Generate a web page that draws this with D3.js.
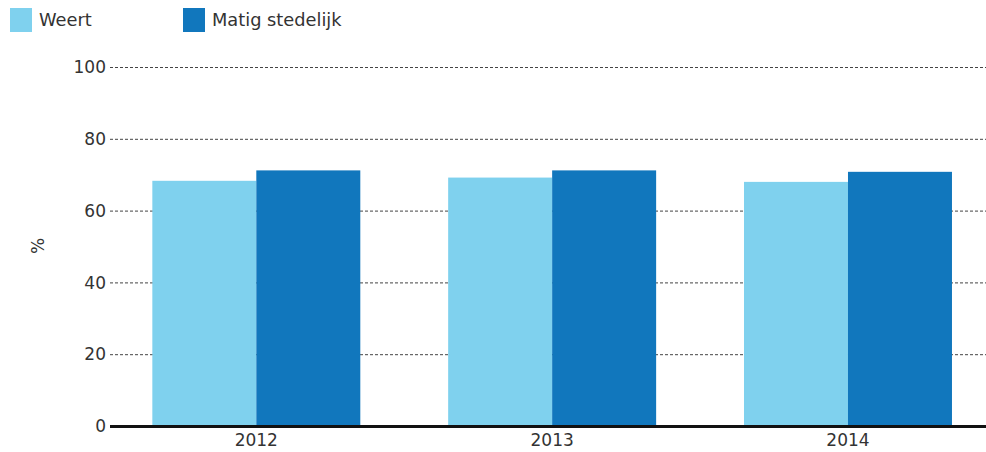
<!DOCTYPE html>
<html>
<head>
<meta charset="utf-8">
<script src="https://cdn.jsdelivr.net/npm/d3@7"></script>
<style>
  html, body { margin: 0; padding: 0; background: #fff; }
  svg { display: block; }
  text { font-family: "DejaVu Sans", Verdana, sans-serif; fill: #333; }
</style>
</head>
<body>
<svg id="chart" width="986" height="452"></svg>
<script>
const categories = ["2012", "2013", "2014"];
const seriesNames = ["Weert", "Matig stedelijk"];
const weert = [68.3, 69.2, 68.0];
const matigStedelijk = [71.2, 71.2, 70.8];
const yTicks = [0, 20, 40, 60, 80, 100];
const colors = ["#7fd1ee", "#1177bd"];

const seriesValues = [weert, matigStedelijk];
const svg = d3.select("#chart");
const W = 986;
const plotLeft = 108.4, plotRight = 995.9, plotTop = 67, plotBottom = 426;

const y = d3.scaleLinear().domain([0, 100]).range([plotBottom, plotTop]);
const x0 = d3.scaleBand().domain(categories).range([plotLeft, plotRight])
  .paddingInner(0.297).paddingOuter(0.1485);
const x1 = d3.scaleBand().domain(seriesNames).range([0, x0.bandwidth()]);

// gridlines
const grid = svg.append("g");
grid.selectAll("line").data(yTicks.filter(d => d > 0)).join("line")
  .attr("x1", 110).attr("x2", W)
  .attr("y1", d => y(d) + 0.5).attr("y2", d => y(d) + 0.5)
  .attr("stroke", "#444").attr("stroke-width", 1)
  .attr("stroke-dasharray", "3,2");

// y tick labels
svg.append("g").selectAll("text").data(yTicks).join("text")
  .attr("x", 106).attr("y", d => y(d))
  .attr("dy", "0.36em")
  .attr("text-anchor", "end")
  .attr("font-size", 17)
  .text(d => d);

// bars
const groups = svg.append("g").selectAll("g").data(categories).join("g")
  .attr("transform", d => `translate(${x0(d)},0)`);
groups.selectAll("rect")
  .data((d, i) => seriesNames.map((s, j) => ({ s, v: seriesValues[j][i], j })))
  .join("rect")
  .attr("x", d => x1(d.s))
  .attr("width", x1.bandwidth())
  .attr("y", d => y(d.v))
  .attr("height", d => y(0) - y(d.v))
  .attr("fill", d => colors[d.j]);

// baseline
svg.append("line")
  .attr("x1", 110).attr("x2", W)
  .attr("y1", y(0) + 0.5).attr("y2", y(0) + 0.5)
  .attr("stroke", "#111").attr("stroke-width", 3);

// x labels
svg.append("g").selectAll("text").data(categories).join("text")
  .attr("x", d => x0(d) + x0.bandwidth() / 2)
  .attr("y", 446)
  .attr("text-anchor", "middle")
  .attr("font-size", 17)
  .text(d => d);

// y-axis title
svg.append("text")
  .attr("transform", "translate(44,246) rotate(-90)")
  .attr("text-anchor", "middle")
  .attr("font-size", 17)
  .text("%");

// legend
const legendX = [10, 183];
const legend = svg.append("g").selectAll("g").data(seriesNames).join("g")
  .attr("transform", (d, i) => `translate(${legendX[i]},8)`);
legend.append("rect").attr("width", 22).attr("height", 24)
  .attr("fill", (d, i) => colors[i]);
legend.append("text").attr("x", 29).attr("y", 12).attr("dy", "0.36em")
  .attr("font-size", 17.8).text(d => d);
</script>
</body>
</html>
